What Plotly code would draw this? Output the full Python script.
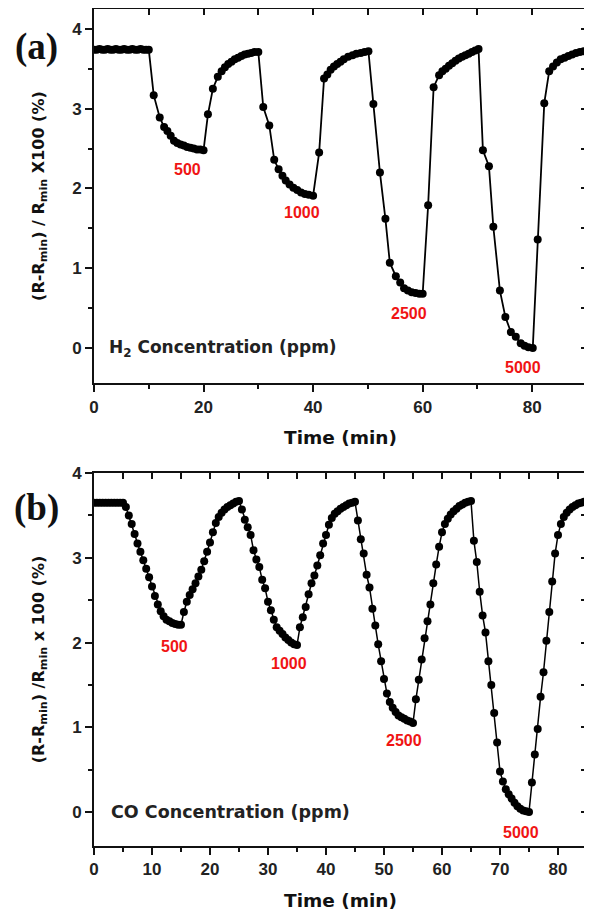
import plotly.graph_objects as go

# ---------------- Panel (a): H2 ----------------
t_h2 = [0, 0.5, 1, 1.5, 2, 2.5, 3, 3.5, 4, 4.5, 5, 5.5, 6, 6.5, 7, 7.5, 8, 8.5, 9, 9.5, 10,
        10.9, 12.0, 12.8, 13.4, 14.0, 14.6, 15.2, 15.8, 16.4, 17.0, 17.6, 18.2, 18.8, 19.4, 20.0,
        20.8, 21.7, 22.6, 23.3, 23.9, 24.5, 25.1, 25.7, 26.3, 26.9, 27.5, 28.1, 28.7, 29.3, 30.0,
        30.9, 32.0, 32.9, 33.7, 34.4, 35.0, 35.7, 36.4, 37.1, 37.8, 38.5, 39.2, 40.0,
        41.1, 42.0, 42.6, 43.2, 43.8, 44.4, 45.0, 45.6, 46.4, 47.2, 47.9, 48.7, 49.4, 50.1,
        51.0, 52.2, 53.2, 54.0, 55.1, 55.9, 56.6, 57.3, 58.0, 58.7, 59.4, 60.0,
        61.0, 62.0, 63.0, 63.6, 64.2, 64.8, 65.4, 66.0, 66.6, 67.2, 67.8, 68.4, 69.0, 69.6, 70.2,
        71.0, 72.1, 72.9, 74.1, 75.1, 76.1, 77.0, 77.9, 78.6, 79.3, 80.1,
        81.0, 82.2, 83.1, 83.8, 84.5, 85.2, 85.9, 86.6, 87.3, 88.0, 88.7, 89.4, 90.0]
r_h2 = [3.74, 3.74, 3.75, 3.74, 3.74, 3.75, 3.74, 3.74, 3.75, 3.74, 3.74, 3.75, 3.74, 3.74, 3.75, 3.74, 3.74, 3.75, 3.74, 3.74, 3.74,
        3.17, 2.89, 2.77, 2.72, 2.66, 2.60, 2.57, 2.55, 2.54, 2.52, 2.51, 2.50, 2.49, 2.49, 2.48,
        2.93, 3.25, 3.40, 3.47, 3.52, 3.56, 3.59, 3.62, 3.64, 3.66, 3.68, 3.69, 3.70, 3.71, 3.71,
        3.02, 2.79, 2.36, 2.24, 2.16, 2.10, 2.05, 2.01, 1.98, 1.95, 1.93, 1.92, 1.91,
        2.45, 3.38, 3.43, 3.49, 3.53, 3.56, 3.59, 3.62, 3.65, 3.67, 3.69, 3.70, 3.71, 3.72,
        3.06, 2.20, 1.62, 1.07, 0.90, 0.82, 0.75, 0.72, 0.70, 0.69, 0.68, 0.68,
        1.79, 3.27, 3.42, 3.47, 3.50, 3.54, 3.57, 3.60, 3.63, 3.65, 3.67, 3.69, 3.71, 3.73, 3.75,
        2.48, 2.28, 1.52, 0.72, 0.39, 0.20, 0.14, 0.06, 0.03, 0.01, 0.00,
        1.36, 3.07, 3.47, 3.53, 3.58, 3.62, 3.64, 3.66, 3.68, 3.70, 3.71, 3.72, 3.72]

# ---------------- Panel (b): CO ----------------
t_co = [0, 0.5, 1, 1.5, 2, 2.5, 3, 3.5, 4, 4.5, 5,
        5.5, 6, 6.5, 7, 7.5, 8, 8.5, 9, 9.5, 10, 10.5, 11, 11.5, 12, 12.5, 13, 13.5, 14, 14.5, 15,
        15.5, 16, 16.5, 17, 17.5, 18, 18.5, 19, 19.5, 20, 20.5, 21, 21.5, 22, 22.5, 23, 23.5, 24, 24.5, 25,
        25.5, 26, 26.5, 27, 27.5, 28, 28.5, 29, 29.5, 30, 30.5, 31, 31.5, 32, 32.5, 33, 33.5, 34, 34.5, 35,
        35.5, 36, 36.5, 37, 37.5, 38, 38.5, 39, 39.5, 40, 40.5, 41, 41.5, 42, 42.5, 43, 43.5, 44, 44.5, 45,
        45.5, 46, 46.5, 47, 47.5, 48, 48.5, 49, 49.5, 50, 50.5, 51, 51.5, 52, 52.5, 53, 53.5, 54, 54.5, 55,
        55.5, 56, 56.5, 57, 57.5, 58, 58.5, 59, 59.5, 60, 60.5, 61, 61.5, 62, 62.5, 63, 63.5, 64, 64.5, 65,
        65.5, 66, 66.5, 67, 67.5, 68, 68.5, 69, 69.5, 70, 70.5, 71, 71.5, 72, 72.5, 73, 73.5, 74, 74.5, 75,
        75.5, 76, 76.5, 77, 77.5, 78, 78.5, 79, 79.5, 80, 80.5, 81, 81.5, 82, 82.5, 83, 83.5, 84, 84.5, 85]
r_co = [3.65, 3.65, 3.65, 3.65, 3.65, 3.65, 3.65, 3.65, 3.65, 3.65, 3.65,
        3.60, 3.50, 3.40, 3.28, 3.17, 3.07, 2.97, 2.87, 2.77, 2.66, 2.55, 2.45, 2.37, 2.31, 2.27, 2.25, 2.23, 2.22, 2.21, 2.21,
        2.36, 2.48, 2.56, 2.63, 2.70, 2.78, 2.86, 2.96, 3.07, 3.18, 3.30, 3.41, 3.48, 3.53, 3.57, 3.60, 3.62, 3.64, 3.66, 3.67,
        3.57, 3.45, 3.36, 3.27, 3.09, 2.98, 2.89, 2.74, 2.64, 2.48, 2.38, 2.27, 2.18, 2.14, 2.10, 2.06, 2.03, 2.00, 1.98, 1.97,
        2.18, 2.30, 2.42, 2.57, 2.70, 2.79, 2.91, 3.03, 3.17, 3.27, 3.39, 3.47, 3.52, 3.55, 3.58, 3.60, 3.62, 3.64, 3.65, 3.66,
        3.44, 3.22, 3.05, 2.80, 2.65, 2.40, 2.20, 1.98, 1.78, 1.57, 1.40, 1.30, 1.23, 1.18, 1.14, 1.12, 1.10, 1.08, 1.07, 1.05,
        1.33, 1.56, 1.80, 2.05, 2.25, 2.45, 2.70, 2.92, 3.13, 3.30, 3.40, 3.46, 3.51, 3.55, 3.58, 3.61, 3.63, 3.65, 3.66, 3.67,
        3.20, 2.95, 2.60, 2.32, 2.12, 1.78, 1.50, 1.17, 0.82, 0.48, 0.36, 0.27, 0.21, 0.16, 0.11, 0.07, 0.04, 0.02, 0.01, 0.00,
        0.35, 0.68, 0.98, 1.36, 1.65, 2.02, 2.36, 2.72, 3.05, 3.27, 3.40, 3.48, 3.53, 3.57, 3.60, 3.62, 3.64, 3.65, 3.66, 3.66]

# Concentration labels (ppm) and their positions (time, response)
conc_labels = ["500", "1000", "2500", "5000"]
lab_t_h2 = [17.0, 37.9, 57.5, 78.3]
lab_r_h2 = [2.24, 1.70, 0.43, -0.24]
lab_t_co = [13.8, 33.7, 53.4, 73.7]
lab_r_co = [1.95, 1.75, 0.84, -0.24]

ARIAL = "Arial"
WIDE = "DejaVu Sans"
SERIF = "Liberation Serif"
RED = "#f01414"
AX = "#111111"

fig = go.Figure()

fig.add_trace(go.Scatter(x=t_h2, y=r_h2, mode="lines+markers", xaxis="x", yaxis="y",
                         line=dict(color="black", width=1.8), marker=dict(color="black", size=8),
                         showlegend=False))
fig.add_trace(go.Scatter(x=t_h2, y=r_h2, mode="markers", xaxis="x3", yaxis="y3",
                         marker=dict(opacity=0), showlegend=False, hoverinfo="skip"))
fig.add_trace(go.Scatter(x=t_co, y=r_co, mode="lines+markers", xaxis="x2", yaxis="y2",
                         line=dict(color="black", width=1.5), marker=dict(color="black", size=8),
                         showlegend=False))
fig.add_trace(go.Scatter(x=t_co, y=r_co, mode="markers", xaxis="x4", yaxis="y4",
                         marker=dict(opacity=0), showlegend=False, hoverinfo="skip"))

tickfont = dict(family=ARIAL, size=17, color="#222222", weight="bold")
xtitlefont = dict(family=WIDE, size=18.5, color="#111111", weight="bold")
ytitlefont = dict(family=WIDE, size=16, color="#111111", weight="bold")

dom_a = [0.553, 1.0]
dom_b = [0.0, 0.4456]

def main_x(rng, dtick, mdtick, anchor):
    return dict(range=rng, dtick=dtick, tick0=0, ticks="outside", ticklen=7, tickwidth=1.5,
                tickcolor=AX, showline=True, linecolor=AX, linewidth=2, mirror=True,
                showgrid=False, zeroline=False, tickfont=tickfont, anchor=anchor, automargin=False,
                minor=dict(dtick=mdtick, tick0=0, ticks="outside", ticklen=4, tickwidth=1.5, tickcolor=AX),
                title=dict(text="Time (min)", font=xtitlefont, standoff=16))

def main_y(rng, dom, anchor, title):
    return dict(range=rng, dtick=1, tick0=0, ticks="outside", ticklen=7, tickwidth=1.5,
                tickcolor=AX, showline=True, linecolor=AX, linewidth=2, mirror=True,
                showgrid=False, zeroline=False, tickfont=tickfont, domain=dom, anchor=anchor,
                automargin=False,
                minor=dict(dtick=0.5, tick0=0, ticks="outside", ticklen=4, tickwidth=1.5, tickcolor=AX),
                title=dict(text=title, font=ytitlefont, standoff=24))

def over_x(match, dtick, anchor):
    return dict(overlaying=match, matches=match, side="top", anchor=anchor, dtick=dtick, tick0=0,
                ticks="inside", ticklen=6, tickwidth=1.5, tickcolor=AX, showticklabels=False,
                showline=True, linecolor=AX, linewidth=2, showgrid=False, zeroline=False,
                automargin=False)

def over_y(match, anchor, dom):
    return dict(overlaying=match, matches=match, side="right", anchor=anchor, dtick=0.5, tick0=0,
                ticks="inside", ticklen=6, tickwidth=1.5, tickcolor=AX, showticklabels=False,
                showline=True, linecolor=AX, linewidth=2, showgrid=False, zeroline=False, domain=dom,
                automargin=False)

ytitle_a = "(R-R<sub>min</sub>) / R<sub>min</sub> X100 (%)"
ytitle_b = "(R-R<sub>min</sub>) /R<sub>min</sub> x 100 (%)"

# margins compensate the 8px default page margin so the plot frames land where the reference has them
fig.update_layout(
    width=592, height=920,
    margin=dict(l=86, r=13, t=1, b=82),
    paper_bgcolor="white", plot_bgcolor="white",
    xaxis=main_x([0, 90], 20, 10, "y"),
    yaxis=main_y([-0.44, 4.25], dom_a, "x", ytitle_a),
    xaxis2=main_x([0, 85], 10, 5, "y2"),
    yaxis2=main_y([-0.4, 4.0], dom_b, "x2", ytitle_b),
    xaxis3=over_x("x", 10, "y3"),
    yaxis3=over_y("y", "x3", dom_a),
    xaxis4=over_x("x2", 5, "y4"),
    yaxis4=over_y("y2", "x4", dom_b),
)

annots = []
for lab, tx, ry in zip(conc_labels, lab_t_h2, lab_r_h2):
    annots.append(dict(x=tx, y=ry, xref="x", yref="y", text=lab, showarrow=False,
                       font=dict(family=ARIAL, size=16, color=RED, weight="bold")))
for lab, tx, ry in zip(conc_labels, lab_t_co, lab_r_co):
    annots.append(dict(x=tx, y=ry, xref="x2", yref="y2", text=lab, showarrow=False,
                       font=dict(family=ARIAL, size=16, color=RED, weight="bold")))

annots.append(dict(x=2.3, y=0, xref="x", yref="y", xanchor="left", yanchor="middle",
                   text="H<sub>2</sub> Concentration (ppm)", showarrow=False,
                   font=dict(family=WIDE, size=17, color="#222222", weight="bold")))
annots.append(dict(x=2.6, y=0, xref="x2", yref="y2", xanchor="left", yanchor="middle",
                   text="CO Concentration (ppm)", showarrow=False,
                   font=dict(family=WIDE, size=17.5, color="#222222", weight="bold")))

annots.append(dict(x=-0.116, y=0.955, xref="paper", yref="paper", xanchor="center", yanchor="middle",
                   text="(a)", showarrow=False,
                   font=dict(family=SERIF, size=37, color="#111111", weight="bold")))
annots.append(dict(x=-0.116, y=0.404, xref="paper", yref="paper", xanchor="center", yanchor="middle",
                   text="(b)", showarrow=False,
                   font=dict(family=SERIF, size=37, color="#111111", weight="bold")))

fig.update_layout(annotations=annots)

fig.write_html("out.html")
